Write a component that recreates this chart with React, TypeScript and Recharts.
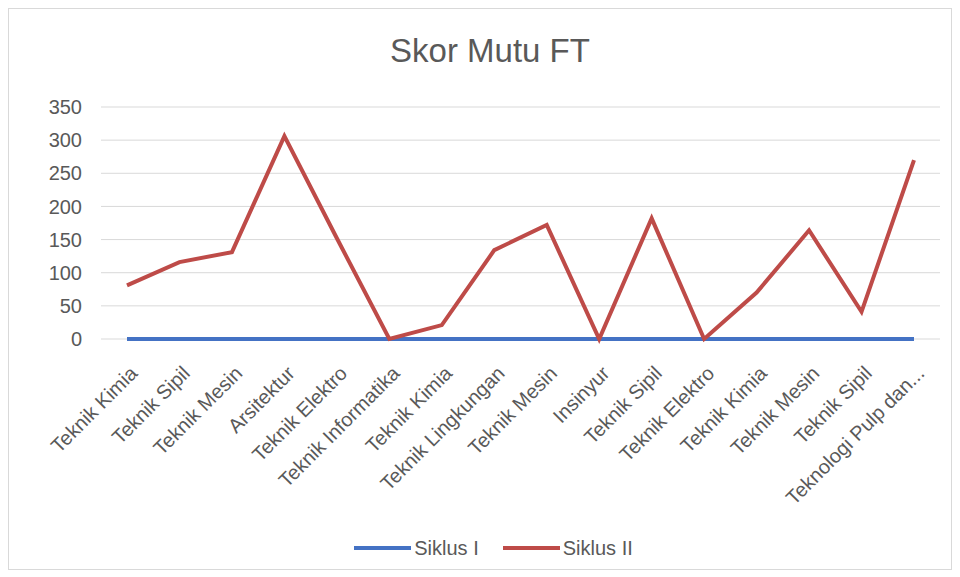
import { CartesianGrid, Legend, Line, LineChart, XAxis, YAxis } from "recharts";

const prodi = [
  "Teknik Kimia",
  "Teknik Sipil",
  "Teknik Mesin",
  "Arsitektur",
  "Teknik Elektro",
  "Teknik Informatika",
  "Teknik Kimia",
  "Teknik Lingkungan",
  "Teknik Mesin",
  "Insinyur",
  "Teknik Sipil",
  "Teknik Elektro",
  "Teknik Kimia",
  "Teknik Mesin",
  "Teknik Sipil",
  "Teknologi Pulp dan...",
];

const siklus1 = [0, 0, 0, 0, 0, 0, 0, 0, 0, 0, 0, 0, 0, 0, 0, 0];
const siklus2 = [81, 116, 131, 306, 152, 0, 21, 134, 172, 0, 182, 0, 70, 164, 41, 270];

const yTicks = [0, 50, 100, 150, 200, 250, 300, 350];

const data = prodi.map((name, i) => ({
  id: i,
  name,
  s1: siklus1[i],
  s2: siklus2[i],
}));

const font = "'Liberation Sans', Arial, sans-serif";
const textColor = "#595959";
const series = [
  { key: "s1", name: "Siklus I", color: "#4472C4" },
  { key: "s2", name: "Siklus II", color: "#BE4B48" },
];

function CategoryTick({ x, y, payload }: any) {
  const ax = x + 1;
  const ay = y + 17;
  return (
    <text
      x={ax}
      y={ay}
      transform={`rotate(-45, ${ax}, ${ay})`}
      textAnchor="end"
      dy="0.75em"
      fill={textColor}
      fontSize={20}
      fontFamily={font}
    >
      {prodi[payload.value]}
    </text>
  );
}

function LegendBox() {
  return (
    <div
      style={{
        display: "flex",
        justifyContent: "center",
        alignItems: "center",
        height: 28,
        paddingLeft: 38,
        gap: 24,
      }}
    >
      {series.map((s) => (
        <div key={s.key} style={{ display: "flex", alignItems: "center" }}>
          <div style={{ width: 57, height: 4, background: s.color, marginRight: 3 }} />
          <span style={{ color: textColor, fontSize: 20, fontFamily: font }}>{s.name}</span>
        </div>
      ))}
    </div>
  );
}

export default function App() {
  return (
    <div
      style={{
        position: "relative",
        width: 942,
        height: 560,
        border: "1px solid #d9d9d9",
        background: "#fff",
        fontFamily: font,
      }}
    >
      <div
        style={{
          position: "absolute",
          top: 23,
          left: 0,
          width: 942,
          paddingLeft: 20,
          boxSizing: "border-box",
          textAlign: "center",
          fontSize: 33,
          color: textColor,
        }}
      >
        Skor Mutu FT
      </div>
      <LineChart
        width={942}
        height={560}
        data={data}
        margin={{ top: 98, right: 11, bottom: 0, left: 0 }}
      >
        <CartesianGrid vertical={false} stroke="#d9d9d9" />
        <XAxis
          dataKey="id"
          interval={0}
          padding={{ left: 26, right: 26 }}
          axisLine={false}
          tickLine={false}
          height={195}
          tick={<CategoryTick />}
        />
        <YAxis
          domain={[0, 350]}
          ticks={yTicks}
          width={92}
          axisLine={false}
          tickLine={false}
          tickMargin={13}
          tick={{ fill: textColor, fontSize: 20, fontFamily: font }}
        />
        <Legend verticalAlign="bottom" height={35} content={<LegendBox />} />
        {series.map((s) => (
          <Line
            key={s.key}
            name={s.name}
            dataKey={s.key}
            stroke={s.color}
            strokeWidth={4}
            dot={false}
            isAnimationActive={false}
          />
        ))}
      </LineChart>
    </div>
  );
}
